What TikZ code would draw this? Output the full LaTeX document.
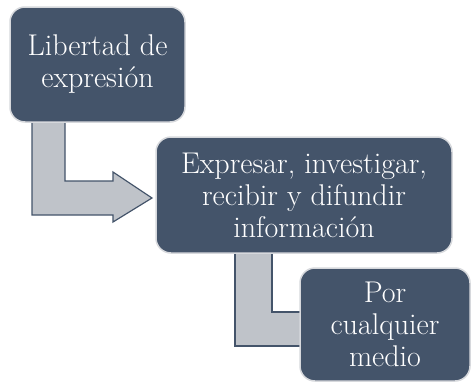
\documentclass[tikz,border=0pt]{standalone}
\usepackage{fontspec}
\usetikzlibrary{calc}
\definecolor{boxfill}{HTML}{44546A}
\definecolor{boxline}{HTML}{D6D8DC}
\definecolor{arrfill}{HTML}{BFC3C9}
\tikzset{
  box/.style={draw=boxline, line width=1.5pt, fill=boxfill, rounded corners=15pt,
    text=white, align=center, inner sep=0pt,
    font=\rmfamily\fontsize{30}{32}\selectfont},
  bentarrow/.style={draw=boxfill, line width=1.2pt, fill=arrfill, line join=miter}
}
\begin{document}
\begin{tikzpicture}[x=1pt,y=-1pt]
\useasboundingbox (0,0) rectangle (471,383);
% bent arrows (drawn first, boxes cover their ends)
\draw[bentarrow] (32,110) -- (32,215) -- (113,215) -- (113,222) -- (152,198)
  -- (113,172) -- (113,181) -- (65,181) -- (65,110) -- cycle;
\draw[bentarrow] (235,240) -- (235,346) -- (320,346) -- (320,312)
  -- (272,312) -- (272,240) -- cycle;
\node[box, minimum width=175pt, minimum height=115pt] (b1) at (97.5,64.5)
  {Libertad de\\expresión};
\node[box, minimum width=296pt, minimum height=116pt] (b2) at (304,195)
  {Expresar, investigar,\\recibir y difundir\\información};
\node[box, minimum width=170pt, minimum height=113pt] (b3) at (385,324.5)
  {Por\\cualquier\\medio};
\end{tikzpicture}
\end{document}
